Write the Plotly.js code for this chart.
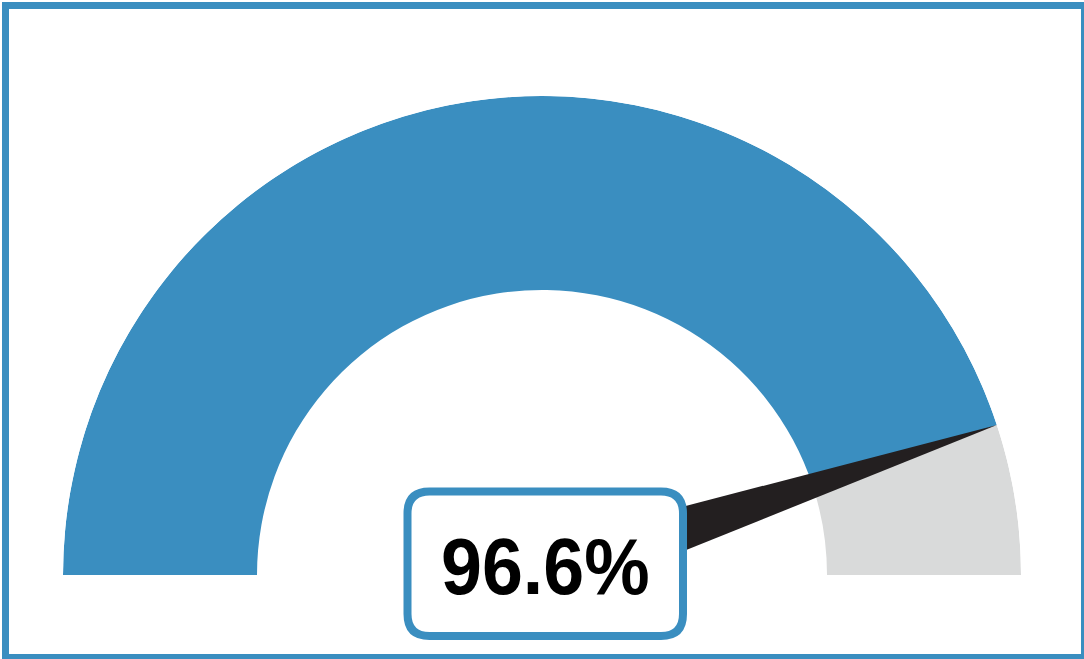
<!DOCTYPE html>
<html>
<head>
<meta charset="utf-8">
<script src="https://cdn.plot.ly/plotly-3.0.1.min.js"></script>
<style>
  html, body { margin: 0; padding: 0; background: #ffffff; }
  #chart { width: 1084px; height: 659px; }
  .annotation-text { transform-box: fill-box; transform-origin: center; transform: scaleX(0.92); }
</style>
</head>
<body>
<div id="chart"></div>
<script>
// ---- data ----
const gaugeLimits = [0, 107.5];      // gauge scale (min, max)
const gaugeValue = [96.6];           // current value
const valueLabels = ['96.6%'];       // label shown in the box

// ---- styling ----
const BLUE = '#3a8ec0';
const GRAY = '#d9dada';
const NEEDLE = '#231f20';

const W = 1084, H = 659;
const M = { l: 63, r: 63, t: 96, b: 84 };
const PW = W - M.l - M.r, PH = H - M.t - M.b;
const holeFrac = 0.595;
const needleBase = 0.064;

function px2x(px) { return (px - M.l) / PW; }
function py2y(py) { return (H - M.b - py) / PH; }

// value -> angle (180 = left end, 0 = right end)
const frac = (gaugeValue[0] - gaugeLimits[0]) / (gaugeLimits[1] - gaugeLimits[0]);
const valAngle = 180 - 180 * frac;

const filled = {
  type: 'barpolar',
  theta: [(valAngle + 180) / 2],
  width: [180 - valAngle],
  r: [1 - holeFrac],
  base: [holeFrac],
  marker: { color: BLUE, line: { width: 0 } },
  hoverinfo: 'skip'
};
const rest = {
  type: 'barpolar',
  theta: [valAngle / 2],
  width: [valAngle],
  r: [1 - holeFrac],
  base: [holeFrac],
  marker: { color: GRAY, line: { width: 0 } },
  hoverinfo: 'skip'
};
const needle = {
  type: 'scatterpolar',
  mode: 'lines',
  r: [needleBase, 1, needleBase, needleBase],
  theta: [valAngle + 90, valAngle, valAngle - 90, valAngle + 90],
  fill: 'toself',
  fillcolor: NEEDLE,
  line: { width: 0, color: NEEDLE },
  hoverinfo: 'skip'
};

function roundedRect(x0p, y0p, x1p, y1p, rp) {
  const X = px2x, Y = py2y;
  return 'M' + X(x0p + rp) + ',' + Y(y0p) +
    ' L' + X(x1p - rp) + ',' + Y(y0p) +
    ' Q' + X(x1p) + ',' + Y(y0p) + ' ' + X(x1p) + ',' + Y(y0p + rp) +
    ' L' + X(x1p) + ',' + Y(y1p - rp) +
    ' Q' + X(x1p) + ',' + Y(y1p) + ' ' + X(x1p - rp) + ',' + Y(y1p) +
    ' L' + X(x0p + rp) + ',' + Y(y1p) +
    ' Q' + X(x0p) + ',' + Y(y1p) + ' ' + X(x0p) + ',' + Y(y1p - rp) +
    ' L' + X(x0p) + ',' + Y(y0p + rp) +
    ' Q' + X(x0p) + ',' + Y(y0p) + ' ' + X(x0p + rp) + ',' + Y(y0p) + ' Z';
}

const layout = {
  width: W, height: H,
  margin: M,
  paper_bgcolor: '#ffffff',
  showlegend: false,
  polar: {
    sector: [0, 180],
    hole: 0,
    bgcolor: 'rgba(0,0,0,0)',
    bargap: 0,
    radialaxis: { visible: false, range: [0, 1], autorange: false, showgrid: false, showline: false },
    angularaxis: { visible: false, showgrid: false, showline: false, rotation: 0, direction: 'counterclockwise' }
  },
  shapes: [
    {
      type: 'path', xref: 'paper', yref: 'paper', layer: 'above',
      path: roundedRect(407.5, 491.5, 683, 636, 22),
      fillcolor: '#ffffff',
      line: { color: BLUE, width: 8 }
    },
    {
      type: 'rect', xref: 'paper', yref: 'paper', layer: 'above',
      x0: px2x(5.5), x1: px2x(1084.5), y0: py2y(5.5), y1: py2y(657.5),
      fillcolor: 'rgba(0,0,0,0)',
      line: { color: BLUE, width: 7 }
    }
  ],
  annotations: [
    {
      xref: 'paper', yref: 'paper',
      x: px2x(545.5), y: py2y(566),
      xanchor: 'center', yanchor: 'middle',
      text: valueLabels[0],
      showarrow: false,
      font: { family: 'Liberation Sans, Arial, sans-serif', size: 80, color: '#000000', weight: 'bold' }
    }
  ]
};

Plotly.newPlot('chart', [filled, rest, needle], layout, { displayModeBar: false, staticPlot: true });
</script>
</body>
</html>
